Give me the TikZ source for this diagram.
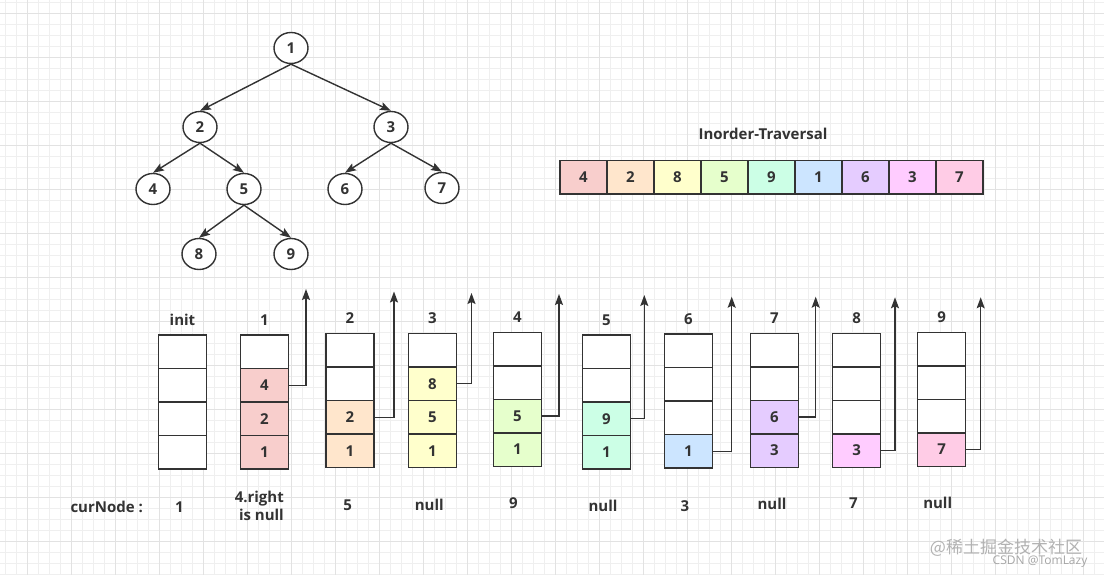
\documentclass[tikz,border=0pt]{standalone}
\usepackage{fontspec}
\setmainfont{Open Sans}
\newfontfamily\cjk{Noto Sans CJK SC}
\usetikzlibrary{shapes.geometric,arrows.meta}
\definecolor{ink}{HTML}{333333}
\definecolor{gridminor}{HTML}{EFEFEF}
\definecolor{gridmajor}{HTML}{E2E2E2}
\definecolor{cRed}{HTML}{F8CECC}
\definecolor{cOrange}{HTML}{FFE6CC}
\definecolor{cYellow}{HTML}{FFFFCC}
\definecolor{cGreen}{HTML}{E6FFCC}
\definecolor{cMint}{HTML}{CCFFE6}
\definecolor{cBlue}{HTML}{CCE5FF}
\definecolor{cPurple}{HTML}{E5CCFF}
\definecolor{cPink}{HTML}{FFCCFF}
\definecolor{cRose}{HTML}{FFCCE6}
\tikzset{
  txt/.style={font=\bfseries\fontsize{15}{18}\selectfont,text=ink,inner sep=0pt},
  tn/.style={txt,ellipse,draw=ink,fill=white,line width=1.4pt,minimum width=34pt,minimum height=31pt},
  cell/.style={txt,rectangle,draw=ink,line width=1.4pt,minimum width=48pt,minimum height=33.5pt},
  arr/.style={draw=ink,line width=1.4pt,-{Stealth[length=11pt,width=8pt,inset=2pt]}},
}
\begin{document}
\begin{tikzpicture}[x=1pt,y=1pt]
\useasboundingbox (0,0) rectangle (1104,-575);
\fill[white] (0,0) rectangle (1104,-575);
% background grid
\foreach \x in {5,16,...,1104} \draw[gridminor,line width=0.8pt] (\x,0) -- (\x,-575);
\foreach \y in {2,13,...,575} \draw[gridminor,line width=0.8pt] (0,-\y) -- (1104,-\y);
\foreach \x in {27,71,...,1104} \draw[gridmajor,line width=0.8pt] (\x,0) -- (\x,-575);
\foreach \y in {13,57,...,575} \draw[gridmajor,line width=0.8pt] (0,-\y) -- (1104,-\y);

% tree
\node[tn] (n1) at (291,-48) {1};
\node[tn] (n2) at (200,-127) {2};
\node[tn] (n3) at (391,-127) {3};
\node[tn] (n4) at (153,-189) {4};
\node[tn] (n5) at (244,-189) {5};
\node[tn] (n6) at (345,-189) {6};
\node[tn] (n7) at (442,-188) {7};
\node[tn] (n8) at (199,-254) {8};
\node[tn] (n9) at (291,-254) {9};
\foreach \a/\b in {1/2,1/3,2/4,2/5,3/6,3/7,5/8,5/9}
  \draw[arr] (n\a.south) -- (n\b.north);

% inorder traversal
\node[txt] (title) at (763,-134) {Inorder-Traversal};
\foreach \v/\col [count=\i] in {4/cRed,2/cOrange,8/cYellow,5/cGreen,9/cMint,1/cBlue,6/cPurple,3/cPink,7/cRose}
  \node[cell,minimum width=47pt,fill=\col] (a\i) at ({583.5+47*(\i-1)},-177.3) {\v};

% stacks: name/x/top/colour/empty cells/contents
\foreach \n/\cx/\ty/\col/\e/\ca/\cb/\cc/\cd in {
  init/182.5/335/white/4/0/0/0/0,
  1/264.5/335/cRed/1/0/4/2/1,
  2/350/333.5/cOrange/2/0/0/2/1,
  3/432.5/333.5/cYellow/1/0/8/5/1,
  4/517.5/332.3/cGreen/2/0/0/5/1,
  5/606.5/335/cMint/2/0/0/9/1,
  6/688.3/334/cBlue/3/0/0/0/1,
  7/774.3/333.3/cPurple/2/0/0/6/3,
  8/856.7/333.3/cPink/3/0/0/0/3,
  9/941.7/332.3/cRose/3/0/0/0/7} {
  \foreach \cv [count=\i] in {\ca,\cb,\cc,\cd} {
    \ifnum\i>\e \def\fc{\col}\edef\lab{\cv}\else\def\fc{white}\def\lab{}\fi
    \node[cell,fill=\fc] (s\n-\i) at (\cx,{-\ty-33.5*(\i-0.5)}) {\lab};
  }
  \node[txt] (h\n) at (\cx,-\ty+15) {\n};
}
\foreach \n/\k/\ax/\ay in {1/2/306/289,2/3/394/291.5,3/2/471.5/293,4/3/559/294,5/3/644.3/295,
  6/4/731.7/296.7,7/3/815.7/296.7,8/4/895/297.3,9/4/980.7/297.3} {
  \coordinate (t\n) at (\ax,-\ay);
  \draw[arr] (s\n-\k.east) -| (t\n);
}

% current node row
\node[txt] (cur) at (106.7,-506.7) {curNode :};
\node[txt] (c0) at (179.3,-506.7) {1};
\node[txt,align=right] (c1) at (259.3,-506) {4.right\\is null};
\node[txt] (c2) at (347.7,-505) {5};
\node[txt] (c3) at (429.3,-505) {null};
\node[txt] (c4) at (513.3,-503) {9};
\node[txt] (c5) at (603,-506) {null};
\node[txt] (c6) at (685,-506) {3};
\node[txt] (c7) at (772,-504) {null};
\node[txt] (c8) at (853.5,-503) {7};
\node[txt] (c9) at (937.7,-503.3) {null};

% watermark
\node[inner sep=0pt,text=black!30,font=\cjk\fontsize{17}{20}\selectfont] (wm) at (1006,-548) {@稀土掘金技术社区};
\node[inner sep=0pt,text=black!35,font=\fontsize{12}{14}\selectfont] (wm2) at (1040,-562) {CSDN @TomLazy};
\end{tikzpicture}
\end{document}
